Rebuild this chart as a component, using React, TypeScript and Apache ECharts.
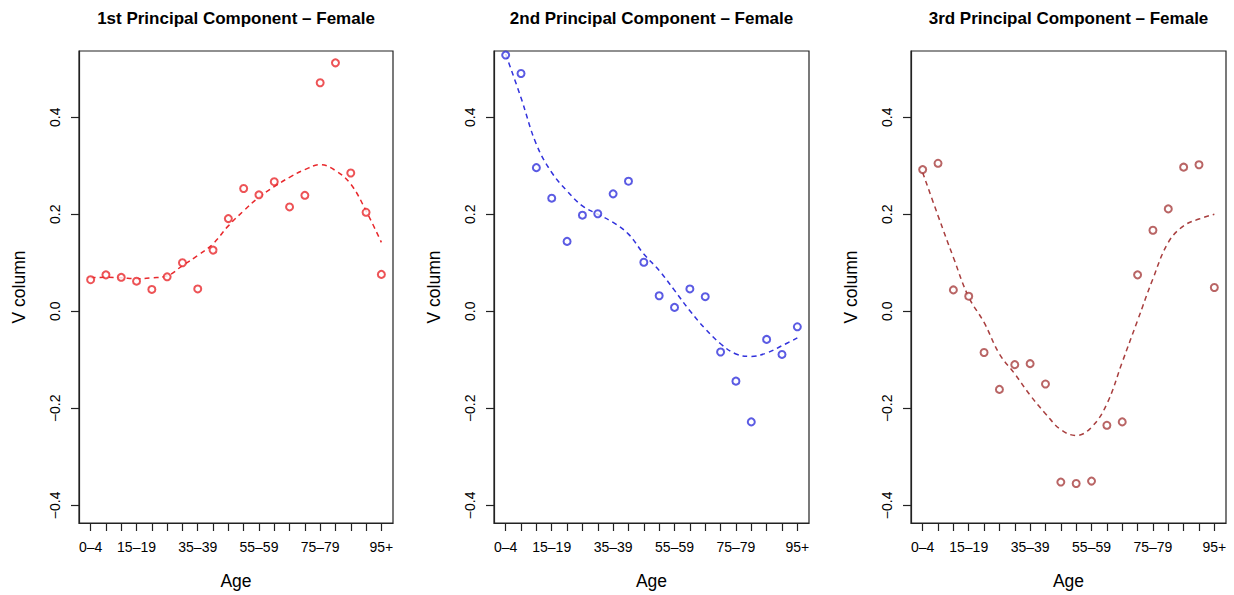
import React, { useEffect, useRef } from "react";
import * as echarts from "echarts";

const ageGroups = [
  "0–4", "5–9", "10–14", "15–19", "20–24", "25–29", "30–34", "35–39", "40–44", "45–49",
  "50–54", "55–59", "60–64", "65–69", "70–74", "75–79", "80–84", "85–89", "90–94", "95+",
];
const labelIdx = [0, 3, 7, 11, 15, 19];
const yTicks = [-0.4, -0.2, 0, 0.2, 0.4];

const titles = [
  "1st Principal Component – Female",
  "2nd Principal Component – Female",
  "3rd Principal Component – Female",
];

const pc1 = [0.065, 0.075, 0.07, 0.062, 0.045, 0.071, 0.1, 0.046, 0.126, 0.191, 0.253, 0.24, 0.267, 0.215, 0.239, 0.471, 0.512, 0.285, 0.204, 0.076];
const pc1Smooth = [0.069, 0.07, 0.069, 0.067, 0.069, 0.073, 0.094, 0.115, 0.139, 0.176, 0.207, 0.235, 0.257, 0.276, 0.292, 0.302, 0.29, 0.262, 0.207, 0.142];

const pc2 = [0.528, 0.49, 0.296, 0.233, 0.144, 0.198, 0.201, 0.242, 0.268, 0.101, 0.032, 0.008, 0.046, 0.03, -0.084, -0.144, -0.228, -0.058, -0.089, -0.032];
const pc2Smooth = [0.53, 0.44, 0.344, 0.286, 0.248, 0.217, 0.2, 0.183, 0.159, 0.118, 0.084, 0.043, 0.001, -0.036, -0.067, -0.088, -0.093, -0.086, -0.071, -0.055];

const pc3 = [0.292, 0.305, 0.044, 0.031, -0.085, -0.161, -0.11, -0.108, -0.15, -0.352, -0.355, -0.35, -0.235, -0.228, 0.075, 0.167, 0.211, 0.297, 0.302, 0.049];
const pc3Smooth = [0.286, 0.197, 0.111, 0.029, -0.023, -0.088, -0.129, -0.173, -0.211, -0.244, -0.256, -0.239, -0.191, -0.105, -0.019, 0.067, 0.142, 0.176, 0.19, 0.2];

const colors = ["#e8282c", "#3232dc", "#a83e3e"];
const pointSets = [pc1, pc2, pc3];
const smoothSets = [pc1Smooth, pc2Smooth, pc3Smooth];

const FONT = "'Liberation Sans', Arial, Helvetica, sans-serif";

export default function App() {
  const ref = useRef<HTMLDivElement>(null);
  useEffect(() => {
    if (!ref.current) return;
    const chart = echarts.init(ref.current, undefined, { renderer: "svg" });
    const grids = [
      { left: 79, width: 314 },
      { left: 494, width: 315 },
      { left: 911, width: 315 },
    ];
    const idx = ageGroups.map((_, i) => i);
    const option: any = {
      animation: false,
      backgroundColor: "#ffffff",
      textStyle: { fontFamily: FONT },
      graphic: grids.map((g, k) => ({
        type: "text",
        x: g.left + g.width / 2,
        y: 18,
        style: {
          text: titles[k],
          font: `bold 17px ${FONT}`,
          fill: "#000",
          align: "center",
          verticalAlign: "middle",
          textAlign: "center",
          textVerticalAlign: "middle",
        },
      })),
      grid: grids.map((g) => ({
        left: g.left,
        width: g.width,
        top: 51,
        height: 472,
        show: true,
        borderColor: "#222",
        borderWidth: 1.2,
        backgroundColor: "transparent",
      })),
      xAxis: grids.map((_, k) => ({
        type: "value",
        gridIndex: k,
        min: -0.76,
        max: 19.76,
        name: "Age",
        nameLocation: "middle",
        nameGap: 49,
        nameTextStyle: { fontSize: 17.5, color: "#000", fontFamily: FONT },
        axisLine: { show: true, onZero: false, lineStyle: { color: "#222", width: 1.2 } },
        axisTick: { show: true, length: 8, customValues: idx, lineStyle: { color: "#222", width: 1.2 } },
        axisLabel: {
          customValues: labelIdx,
          formatter: (v: number) => ageGroups[Math.round(v)] ?? "",
          fontSize: 14,
          color: "#000",
          margin: 17,
          fontFamily: FONT,
        },
        splitLine: { show: false },
      })),
      yAxis: grids.map((_, k) => ({
        type: "value",
        gridIndex: k,
        min: -0.4364,
        max: 0.5364,
        name: "V column",
        nameLocation: "middle",
        nameGap: 51,
        nameRotate: 90,
        nameTextStyle: { fontSize: 17.5, color: "#000", fontFamily: FONT },
        axisLine: { show: true, onZero: false, lineStyle: { color: "#222", width: 1.2 } },
        axisTick: { show: true, length: 8, customValues: yTicks, lineStyle: { color: "#222", width: 1.2 } },
        axisLabel: {
          customValues: yTicks,
          rotate: 90,
          formatter: (v: number) => v.toFixed(1).replace("-", "−"),
          fontSize: 14,
          color: "#000",
          margin: 17,
          fontFamily: FONT,
        },
        splitLine: { show: false },
      })),
      series: [
        ...pointSets.map((vals, k) => ({
          type: "scatter",
          xAxisIndex: k,
          yAxisIndex: k,
          symbol: "emptyCircle",
          symbolSize: 7,
          itemStyle: { color: colors[k], borderColor: colors[k], borderWidth: 1.5 },
          data: vals.map((v, i) => [i, v]),
          z: 3,
        })),
        ...smoothSets.map((vals, k) => ({
          type: "line",
          xAxisIndex: k,
          yAxisIndex: k,
          smooth: 0.4,
          showSymbol: false,
          symbol: "none",
          lineStyle: { color: colors[k], width: 1.5, type: [5, 4] },
          data: vals.map((v, i) => [i, v]),
          z: 2,
        })),
      ],
    };
    chart.setOption(option);
    return () => chart.dispose();
  }, []);
  return (
    <div
      ref={ref}
      style={{ position: "fixed", left: 0, top: 0, width: 1234, height: 595, background: "#fff" }}
    />
  );
}
